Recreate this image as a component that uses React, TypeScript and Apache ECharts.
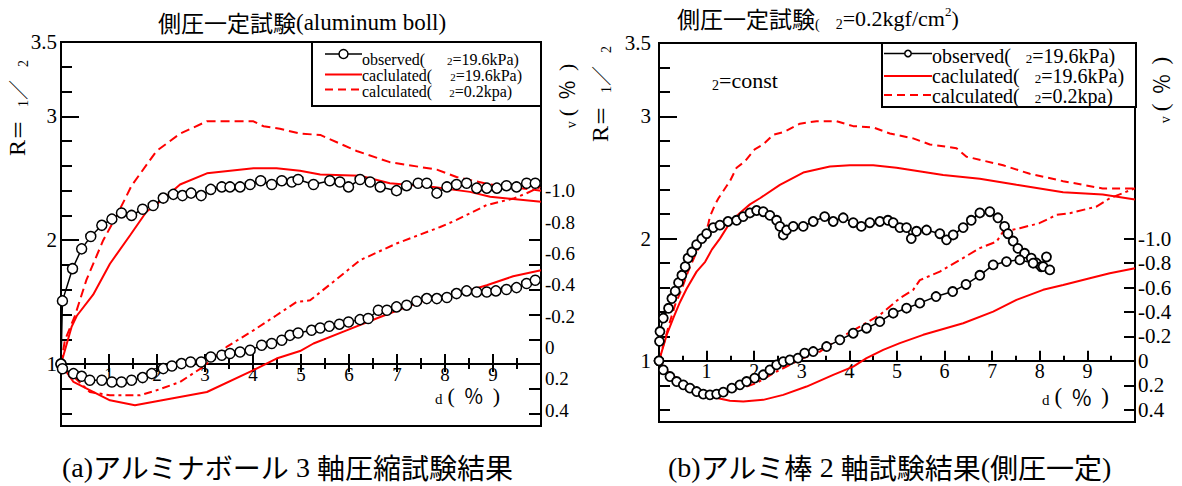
import React, { useEffect, useRef } from 'react';
import * as echarts from 'echarts';

const SERIF = "'Liberation Serif', 'Times New Roman', serif";
const CJK = "'Noto Sans CJK JP', 'Noto Sans CJK SC', sans-serif";

// ---------- axis tick / label values ----------
const R_MIN = 0.5;
const R_MAX = 3.6;
const X_MIN = 0;
const X_MAX = 10;
const xLabelValues = [1, 2, 3, 4, 5, 6, 7, 8, 9];
const rLabelValues = [1, 2, 3, 3.6];
const rLabelTexts = ['1', '2', '3', '3.5'];
const rMajorTicks = [1, 2, 3];
const rMinorTicks = [0.6, 0.8, 1.2, 1.4, 1.6, 1.8, 2.2, 2.4, 2.6, 2.8, 3.2, 3.4];
const rRightTicks = [0.6, 0.8, 1.2, 1.4, 1.6, 1.8, 2.0];
const evLabelValues = [-1, -0.8, -0.6, -0.4, -0.2, 0, 0.2, 0.4];
const evLabelRangeA = [-1.95, 0.5]; // printed εv scale of panel (a)

// ---------- (a) aluminum ball, triaxial ----------
const obsA_R = [[0, 1.0], [0.03, 1.51], [0.24, 1.77], [0.43, 1.93], [0.62, 2.03], [0.85, 2.12], [1.06, 2.17], [1.26, 2.22], [1.47, 2.2], [1.7, 2.25], [1.92, 2.28], [2.13, 2.34], [2.34, 2.37], [2.53, 2.36], [2.71, 2.38], [2.92, 2.36], [3.12, 2.41], [3.35, 2.43], [3.52, 2.43], [3.73, 2.43], [3.94, 2.45], [4.16, 2.48], [4.39, 2.45], [4.6, 2.48], [4.81, 2.47], [4.94, 2.49], [5.26, 2.45], [5.6, 2.48], [5.81, 2.47], [5.99, 2.43], [6.23, 2.49], [6.44, 2.47], [6.65, 2.43], [6.99, 2.4], [7.2, 2.44], [7.44, 2.46], [7.62, 2.46], [7.83, 2.38], [8.04, 2.43], [8.24, 2.45], [8.45, 2.46], [8.66, 2.42], [8.87, 2.42], [9.08, 2.42], [9.28, 2.44], [9.49, 2.43], [9.7, 2.46], [9.88, 2.46]];
const obsA_EV = [[0, 0], [0.03, 0.03], [0.26, 0.061], [0.43, 0.078], [0.6, 0.103], [0.85, 0.103], [1.06, 0.114], [1.26, 0.114], [1.47, 0.103], [1.7, 0.086], [1.89, 0.061], [2.13, 0.029], [2.31, 0.012], [2.51, -0.003], [2.7, -0.013], [2.92, -0.013], [3.12, -0.045], [3.35, -0.056], [3.52, -0.067], [3.73, -0.077], [3.94, -0.088], [4.18, -0.12], [4.39, -0.131], [4.6, -0.152], [4.77, -0.183], [4.94, -0.198], [5.22, -0.215], [5.4, -0.23], [5.59, -0.241], [5.8, -0.254], [5.99, -0.268], [6.23, -0.283], [6.4, -0.29], [6.61, -0.343], [6.79, -0.343], [6.99, -0.364], [7.2, -0.375], [7.41, -0.4], [7.62, -0.417], [7.83, -0.417], [8.04, -0.424], [8.24, -0.449], [8.45, -0.466], [8.66, -0.459], [8.87, -0.459], [9.06, -0.466], [9.28, -0.475], [9.49, -0.487], [9.7, -0.513], [9.88, -0.534]];
const calcA_R196 = [[0, 1], [0.22, 1.3], [0.33, 1.39], [0.67, 1.56], [1.02, 1.81], [1.44, 2.04], [1.78, 2.23], [2.13, 2.33], [2.48, 2.45], [3.04, 2.54], [4.01, 2.58], [4.49, 2.58], [4.98, 2.56], [5.4, 2.53], [6.23, 2.52], [6.85, 2.46], [7.76, 2.43], [8.52, 2.39], [8.94, 2.35], [10, 2.31]];
const calcA_R02 = [[0, 1], [0.08, 1.19], [0.29, 1.39], [0.53, 1.68], [0.88, 2.0], [1.12, 2.17], [1.33, 2.33], [1.47, 2.44], [1.99, 2.72], [2.48, 2.86], [3.04, 2.96], [4.01, 2.96], [4.22, 2.92], [4.56, 2.9], [4.98, 2.86], [5.4, 2.85], [6.16, 2.72], [6.85, 2.63], [7.83, 2.57], [8.24, 2.51], [8.94, 2.45], [10, 2.4]];
const calcA_EV196 = [[0, 0], [0.26, 0.114], [1.02, 0.231], [1.54, 0.262], [3.04, 0.178], [4.01, 0.039], [4.49, -0.035], [4.98, -0.083], [5.26, -0.131], [5.95, -0.215], [6.65, -0.3], [7.48, -0.396], [8.17, -0.438], [8.87, -0.502], [9.42, -0.559], [10, -0.597]];
const calcA_EV02 = [[0, 0], [0.3, 0.09], [0.6, 0.178], [1.02, 0.199], [1.65, 0.199], [1.99, 0.167], [2.48, 0.114], [2.96, 0.018], [3.45, -0.109], [4.01, -0.215], [4.49, -0.311], [4.91, -0.396], [5.19, -0.406], [5.67, -0.523], [6.23, -0.661], [6.99, -0.768], [7.9, -0.873], [8.24, -0.918], [8.87, -1.013], [9.42, -1.054], [9.7, -1.088], [10, -1.13]];

// ---------- (b) aluminum rods, biaxial ----------
const obsB_R = [[0, 1], [0.01, 1.16], [0.02, 1.24], [0.09, 1.35], [0.2, 1.43], [0.27, 1.51], [0.34, 1.57], [0.41, 1.64], [0.48, 1.7], [0.55, 1.77], [0.61, 1.84], [0.69, 1.89], [0.79, 1.95], [0.9, 2.0], [1.0, 2.04], [1.14, 2.09], [1.28, 2.11], [1.45, 2.14], [1.63, 2.15], [1.77, 2.18], [1.91, 2.21], [2.05, 2.23], [2.19, 2.22], [2.33, 2.19], [2.47, 2.15], [2.54, 2.1], [2.61, 2.03], [2.68, 2.07], [2.82, 2.1], [3.03, 2.1], [3.24, 2.14], [3.48, 2.18], [3.66, 2.14], [3.87, 2.17], [4.08, 2.13], [4.25, 2.1], [4.43, 2.13], [4.64, 2.14], [4.81, 2.15], [4.92, 2.13], [5.06, 2.09], [5.2, 2.09], [5.3, 2.0], [5.41, 2.06], [5.62, 2.07], [5.9, 2.04], [6.04, 1.99], [6.18, 2.03], [6.39, 2.09], [6.56, 2.15], [6.74, 2.21], [6.95, 2.22], [7.12, 2.17], [7.26, 2.1], [7.33, 2.04], [7.44, 1.98], [7.54, 1.92], [7.68, 1.88], [7.82, 1.84], [7.93, 1.8], [8.03, 1.77], [8.14, 1.85]];
const obsB_EV = [[0, 0], [0.09, 0.074], [0.23, 0.128], [0.37, 0.169], [0.51, 0.196], [0.65, 0.223], [0.79, 0.251], [0.93, 0.272], [1.07, 0.278], [1.21, 0.272], [1.35, 0.256], [1.53, 0.223], [1.7, 0.196], [1.84, 0.169], [2.01, 0.141], [2.19, 0.114], [2.33, 0.074], [2.47, 0.033], [2.61, 0.006], [2.75, -0.008], [2.92, -0.022], [3.06, -0.063], [3.24, -0.076], [3.52, -0.117], [3.8, -0.172], [4.08, -0.226], [4.36, -0.267], [4.64, -0.321], [4.92, -0.39], [5.2, -0.431], [5.48, -0.472], [5.82, -0.526], [6.17, -0.567], [6.45, -0.625], [6.74, -0.7], [7.02, -0.785], [7.3, -0.812], [7.58, -0.826], [7.86, -0.799], [8.07, -0.771], [8.21, -0.744]];
const calcB_R196 = [[0, 1], [0.16, 1.21], [0.3, 1.35], [0.44, 1.48], [0.58, 1.59], [0.79, 1.73], [0.97, 1.81], [1.11, 1.91], [1.28, 2.0], [1.49, 2.13], [1.7, 2.21], [1.91, 2.28], [2.12, 2.33], [2.54, 2.44], [3.03, 2.54], [3.59, 2.59], [4.01, 2.6], [4.5, 2.6], [4.99, 2.58], [5.97, 2.52], [6.74, 2.49], [7.51, 2.44], [8.49, 2.38], [9.32, 2.36], [10, 2.32]];
const calcB_R02 = [[0, 1], [0.23, 1.32], [0.34, 1.46], [0.48, 1.59], [0.61, 1.73], [0.79, 1.89], [0.93, 2.0], [1.03, 2.11], [1.07, 2.18], [1.18, 2.28], [1.25, 2.33], [1.42, 2.43], [1.49, 2.47], [1.63, 2.58], [1.8, 2.63], [2.01, 2.73], [2.19, 2.77], [2.4, 2.85], [2.61, 2.87], [2.96, 2.94], [3.31, 2.96], [3.73, 2.96], [4.08, 2.92], [4.5, 2.91], [4.85, 2.86], [5.34, 2.82], [5.69, 2.77], [6.25, 2.74], [6.46, 2.67], [7.23, 2.6], [7.79, 2.53], [8.49, 2.47], [9.32, 2.41], [10, 2.41]];
const calcB_EV196 = [[0, 0], [0.23, 0.114], [0.51, 0.196], [0.79, 0.251], [1.07, 0.292], [1.49, 0.327], [1.77, 0.333], [2.19, 0.319], [2.61, 0.278], [3.1, 0.21], [3.66, 0.114], [4.08, 0.047], [4.36, -0.022], [4.71, -0.09], [5.06, -0.145], [5.55, -0.213], [6.39, -0.308], [7.02, -0.403], [7.51, -0.499], [8.07, -0.581], [8.49, -0.621], [9.05, -0.676], [9.47, -0.717], [10, -0.758]];
const calcB_EV02 = [[0, 0], [0.09, 0.06], [0.51, 0.182], [0.93, 0.264], [1.21, 0.272], [1.63, 0.237], [2.05, 0.182], [2.47, 0.087], [2.75, 0.033], [3.03, -0.022], [3.38, -0.076], [3.8, -0.186], [4.22, -0.28], [4.64, -0.376], [5.06, -0.513], [5.34, -0.581], [5.48, -0.66], [5.9, -0.73], [6.32, -0.826], [6.74, -0.922], [7.09, -0.975], [7.23, -1.057], [7.58, -1.085], [7.99, -1.126], [8.35, -1.194], [8.63, -1.208], [9.19, -1.262], [9.47, -1.33], [10, -1.412]];

const BLACK = '#000';
const RED = '#ff0000';

// plot rectangles
const GA = { left: 61, top: 42, width: 480, height: 384 };
const GB = { left: 659, top: 43, width: 476, height: 379 };
const EV_A_PX_PER_UNIT = 157; // pixel scale of the printed εv labels in panel (a)

const evFmt = (v: number) => (Math.abs(v) < 1e-9 ? '0' : v.toFixed(1));

function obsSeries(name: string, data: number[][], xi: number, yi: number, size: number, bw: number) {
  return {
    name, type: 'line', data, xAxisIndex: xi, yAxisIndex: yi, z: 5,
    symbol: 'circle', symbolSize: size, showAllSymbol: true,
    itemStyle: { color: '#fff', borderColor: BLACK, borderWidth: bw },
    lineStyle: { color: BLACK, width: 1.5 },
  };
}
function calcSeries(name: string, data: number[][], xi: number, yi: number, dash: any) {
  return {
    name, type: 'line', data, xAxisIndex: xi, yAxisIndex: yi, z: 3,
    symbol: 'none',
    lineStyle: { color: RED, width: 2, type: dash || 'solid' },
  };
}

function rText(x: number, y: number, text: string, rich: any, extra: any = {}) {
  const { align, ...rest } = extra;
  return {
    type: 'text', x, y, z: 50, ...rest,
    style: {
      text, rich, fill: BLACK,
      align: align || 'left', textAlign: align || 'left',
      verticalAlign: 'middle', textVerticalAlign: 'middle',
    },
  };
}

// "(%)" unit text: serif parentheses around a full-width percent sign
function unitRich(fs: number, lh: number, subSize: number) {
  return {
    s: { fontFamily: SERIF, fontSize: subSize, fill: BLACK, lineHeight: lh, verticalAlign: 'bottom' },
    g: { width: 5, fontSize: fs, lineHeight: lh },
    w: { width: 9, fontSize: fs, lineHeight: lh },
    p: { fontFamily: SERIF, fontSize: fs + 2, fill: BLACK, lineHeight: lh },
    q: { fontFamily: CJK, fontSize: fs, fill: BLACK, lineHeight: lh },
  };
}
const UNIT_TEXT = '{s|v}{g| }{p|(}{w| }{q|％}{w| }{p|)}';
const UNIT_TEXT_X = '{s|d}{g| }{p|(}{w| }{q|％}{w| }{p|)}';

function legendBox(x: number, y: number, w: number, h: number, lx0: number, lx1: number, ly: number[], tx: number, ty: number[], fs: number, lh: number, sub: number, gaps: number[], r: number) {
  const t = { fontFamily: SERIF, fontSize: fs, fill: BLACK, lineHeight: lh };
  const s = { fontFamily: SERIF, fontSize: sub, fill: BLACK, verticalAlign: 'bottom', lineHeight: lh };
  const mk = (g: number) => ({ t, s, g: { width: g, fontSize: fs, lineHeight: lh } });
  return [
    { type: 'rect', z: 40, shape: { x, y, width: w, height: h }, style: { fill: '#fff', stroke: BLACK, lineWidth: 2 } },
    { type: 'line', z: 41, shape: { x1: lx0, y1: ly[0], x2: lx1, y2: ly[0] }, style: { stroke: BLACK, lineWidth: 1.5 } },
    { type: 'circle', z: 42, shape: { cx: (lx0 + lx1) / 2, cy: ly[0], r }, style: { fill: '#fff', stroke: BLACK, lineWidth: 1.5 } },
    { type: 'line', z: 41, shape: { x1: lx0, y1: ly[1], x2: lx1, y2: ly[1] }, style: { stroke: RED, lineWidth: 2 } },
    { type: 'line', z: 41, shape: { x1: lx0, y1: ly[2], x2: lx1, y2: ly[2] }, style: { stroke: RED, lineWidth: 2, lineDash: [8, 5] } },
    rText(tx, ty[0], '{t|observed(}{g| }{s|2}{t|=19.6kPa)}', mk(gaps[0])),
    rText(tx, ty[1], '{t|caclulated(}{g| }{s|2}{t|=19.6kPa)}', mk(gaps[1])),
    rText(tx, ty[2], '{t|calculated(}{g| }{s|2}{t|=0.2kpa)}', mk(gaps[2])),
  ];
}

const tickStyle = { color: BLACK, width: 2 };

export default function App() {
  const ref = useRef<HTMLDivElement>(null);
  useEffect(() => {
    if (!ref.current) return;
    const chart = echarts.init(ref.current, null, { renderer: 'svg' });

    // fraction of the plot height lying above R = 1 (where the x axis is drawn)
    const fracAbove = (R_MAX - 1) / (R_MAX - R_MIN);
    const fracBelow = (1 - R_MIN) / (R_MAX - R_MIN);
    // hidden εv data axis of (a): zero on R = 1, printed label scale
    const evAMin = -(GA.height * fracAbove) / EV_A_PX_PER_UNIT;
    const evAMax = (GA.height * fracBelow) / EV_A_PX_PER_UNIT;

    const axisGrid = (g: any) => ({ left: g.left, top: g.top, width: g.width, height: g.height * fracAbove, show: false });

    const xShown = (gi: number, fs: number, inside: boolean, showLabel: boolean, showLine: boolean, len: number, mlen: number, margin: number) => ({
      type: 'value', gridIndex: gi, min: X_MIN, max: X_MAX, interval: 1, position: 'bottom',
      splitLine: { show: false },
      axisLine: { show: showLine, onZero: false, lineStyle: { color: BLACK, width: 2 } },
      axisTick: { show: true, inside, length: len, lineStyle: tickStyle },
      minorTick: { show: true, splitNumber: 2, length: mlen, lineStyle: tickStyle },
      axisLabel: showLabel
        ? { customValues: xLabelValues, color: BLACK, fontFamily: SERIF, fontSize: fs, lineHeight: fs - 4, margin }
        : { show: false },
    });

    const yLeftMajor = (gi: number, fs: number, margin: number) => ({
      type: 'value', gridIndex: gi, position: 'left', min: R_MIN, max: R_MAX,
      axisLine: { show: false }, splitLine: { show: false },
      axisTick: { show: true, inside: true, length: 18, lineStyle: tickStyle, customValues: rMajorTicks },
      axisLabel: {
        customValues: rLabelValues, color: BLACK, fontFamily: SERIF, fontSize: fs, margin,
        formatter: (v: number) => rLabelTexts[rLabelValues.indexOf(v)] ?? String(v),
      },
    });
    const yLeftMinor = (gi: number) => ({
      type: 'value', gridIndex: gi, position: 'left', min: R_MIN, max: R_MAX,
      axisLine: { show: false }, splitLine: { show: false }, axisLabel: { show: false },
      axisTick: { show: true, inside: true, length: 11, lineStyle: tickStyle, customValues: rMinorTicks },
    });

    const option: any = {
      animation: false,
      backgroundColor: '#fff',
      grid: [
        { ...GA, show: true, borderColor: BLACK, borderWidth: 2, backgroundColor: 'transparent' },
        { ...GB, show: true, borderColor: BLACK, borderWidth: 2, backgroundColor: 'transparent' },
        axisGrid(GA),
        axisGrid(GB),
      ],
      xAxis: [
        xShown(2, 19, true, true, true, 10, 6, 3),
        xShown(2, 19, false, false, false, 8, 5, 3),
        xShown(3, 20, true, true, true, 10, 5, 2),
        { type: 'value', gridIndex: 0, min: X_MIN, max: X_MAX, show: false, splitLine: { show: false } },
        { type: 'value', gridIndex: 1, min: X_MIN, max: X_MAX, show: false, splitLine: { show: false } },
      ],
      yAxis: [
        yLeftMajor(0, 21, 4),
        yLeftMinor(0),
        {
          type: 'value', gridIndex: 0, position: 'right', min: evLabelRangeA[0], max: evLabelRangeA[1], inverse: true,
          axisLine: { show: false }, axisTick: { show: false }, splitLine: { show: false },
          axisLabel: { customValues: evLabelValues, formatter: evFmt, color: BLACK, fontFamily: SERIF, fontSize: 19, margin: 4 },
        },
        { type: 'value', gridIndex: 0, position: 'right', min: evAMin, max: evAMax, inverse: true, show: false, splitLine: { show: false } },
        {
          type: 'value', gridIndex: 0, position: 'right', min: R_MIN, max: R_MAX,
          axisLine: { show: false }, splitLine: { show: false }, axisLabel: { show: false },
          axisTick: { show: true, inside: true, length: 12, lineStyle: tickStyle, customValues: rRightTicks },
        },
        yLeftMajor(1, 21, 8),
        yLeftMinor(1),
        {
          type: 'value', gridIndex: 1, position: 'right', min: 1 - R_MAX, max: 1 - R_MIN, inverse: true,
          axisLine: { show: false }, splitLine: { show: false },
          axisTick: { show: true, inside: true, length: 11, lineStyle: tickStyle, customValues: evLabelValues },
          axisLabel: { customValues: evLabelValues, formatter: evFmt, color: BLACK, fontFamily: SERIF, fontSize: 21, margin: 3 },
        },
        { type: 'value', gridIndex: 2, min: 0, max: 1, show: false, splitLine: { show: false } },
        { type: 'value', gridIndex: 3, min: 0, max: 1, show: false, splitLine: { show: false } },
      ],
      series: [
        calcSeries('a-calc-R-19.6', calcA_R196, 3, 0, null),
        calcSeries('a-calc-R-0.2', calcA_R02, 3, 0, [9, 5]),
        calcSeries('a-calc-ev-19.6', calcA_EV196, 3, 3, null),
        calcSeries('a-calc-ev-0.2', calcA_EV02, 3, 3, [8, 4, 3, 4]),
        obsSeries('a-obs-R', obsA_R, 3, 0, 10, 1.5),
        obsSeries('a-obs-ev', obsA_EV, 3, 3, 10, 1.5),
        calcSeries('b-calc-R-19.6', calcB_R196, 4, 5, null),
        calcSeries('b-calc-R-0.2', calcB_R02, 4, 5, [8, 5]),
        calcSeries('b-calc-ev-19.6', calcB_EV196, 4, 7, null),
        calcSeries('b-calc-ev-0.2', calcB_EV02, 4, 7, [9, 4, 3, 4]),
        obsSeries('b-obs-R', obsB_R, 4, 5, 9, 1.8),
        obsSeries('b-obs-ev', obsB_EV, 4, 7, 9, 1.8),
      ],
      graphic: { elements: [
        // titles
        rText(158, 22, '{c|側圧一定試験}{t|(aluminum boll)}', {
          c: { fontFamily: CJK, fontSize: 23, fill: BLACK },
          t: { fontFamily: SERIF, fontSize: 23, fill: BLACK },
        }),
        rText(677, 18, '{c|側圧一定試験}{p|(}{g| }{s|2}{t|=0.2kgf/cm}{u|2}{t|)}', {
          c: { fontFamily: CJK, fontSize: 23, fill: BLACK, lineHeight: 26 },
          p: { fontFamily: SERIF, fontSize: 14, fill: BLACK, lineHeight: 26, verticalAlign: 'bottom' },
          g: { width: 16, fontSize: 14, lineHeight: 26 },
          s: { fontFamily: SERIF, fontSize: 14, fill: BLACK, lineHeight: 26, verticalAlign: 'bottom' },
          t: { fontFamily: SERIF, fontSize: 22, fill: BLACK, lineHeight: 26 },
          u: { fontFamily: SERIF, fontSize: 13, fill: BLACK, lineHeight: 26, verticalAlign: 'top' },
        }),
        // y-axis names (left)
        ...[[17, 108], [600, 94]].map(([x, y]) => rText(x, y, '{r|R}{e|＝}{g| }{s|1}{e|／}{g| }{s|2}', {
          r: { fontFamily: SERIF, fontSize: 24, fill: BLACK, lineHeight: 26 },
          e: { fontFamily: CJK, fontSize: 20, fill: BLACK, lineHeight: 26 },
          g: { width: 13, fontSize: 20, lineHeight: 26 },
          s: { fontFamily: SERIF, fontSize: 14, fill: BLACK, lineHeight: 26, verticalAlign: 'bottom' },
        }, { rotation: Math.PI / 2, align: 'center' })),
        // y-axis names (right)
        ...[[566, 96, 20], [1160, 90, 21]].map(([x, y, fs]) => rText(x, y, UNIT_TEXT, unitRich(fs, fs + 4, 14),
          { rotation: Math.PI / 2, align: 'center' })),
        // x-axis names
        ...[[435, 395, 20], [1042, 396, 21]].map(([x, y, fs]) => rText(x, y, UNIT_TEXT_X, unitRich(fs, fs + 2, 15))),
        // sigma2 = const
        rText(712, 80, '{s|2}{t|=const}', {
          s: { fontFamily: SERIF, fontSize: 14, fill: BLACK, lineHeight: 24, verticalAlign: 'bottom' },
          t: { fontFamily: SERIF, fontSize: 22, fill: BLACK, lineHeight: 24 },
        }),
        // legends
        ...legendBox(312, 42, 229, 64, 325, 362, [54, 74.5, 89.5], 362, [59.5, 75.5, 91.5], 16, 14, 11, [22, 18, 17], 4.5),
        ...legendBox(882, 43, 254, 64, 884, 932, [53.5, 76, 95], 932, [56, 76, 96], 20, 18, 13, [15, 15, 15], 3.2),
        // captions
        rText(62, 467, '{t|(a)}{c|アルミナボール}{t| 3 }{c|軸圧縮試験結果}', {
          t: { fontFamily: SERIF, fontSize: 28, fill: BLACK },
          c: { fontFamily: CJK, fontSize: 28, fill: BLACK },
        }),
        rText(668, 467, '{t|(b)}{c|アルミ棒}{t| 2 }{c|軸試験結果}{t|(}{c|側圧一定}{t|)}', {
          t: { fontFamily: SERIF, fontSize: 28, fill: BLACK },
          c: { fontFamily: CJK, fontSize: 28, fill: BLACK },
        }),
      ] },
    };
    chart.setOption(option);
    return () => chart.dispose();
  }, []);
  return <div ref={ref} style={{ position: 'fixed', left: 0, top: 0, width: 1182, height: 486, background: '#fff' }} />;
}
